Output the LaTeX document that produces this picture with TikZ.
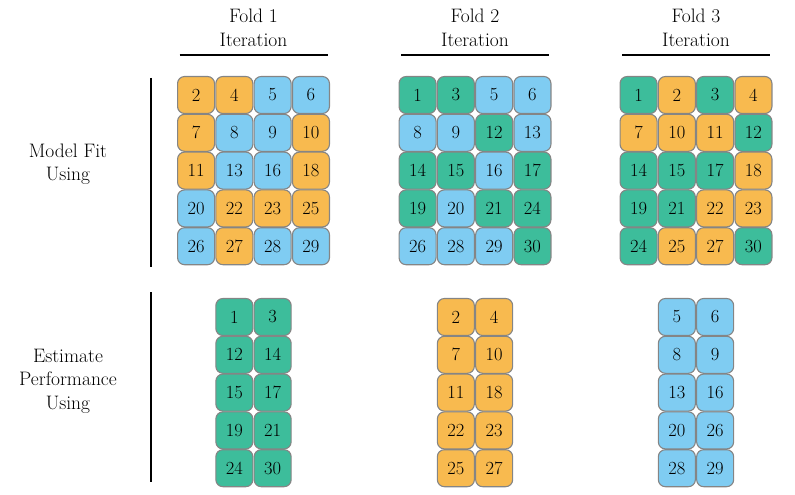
\documentclass[tikz,border=0pt]{standalone}
\definecolor{cO}{HTML}{F8BA4F}
\definecolor{cB}{HTML}{7FCCF2}
\definecolor{cG}{HTML}{3DBD9B}
\definecolor{cE}{HTML}{858585}
\begin{document}
\begin{tikzpicture}[x=1pt,y=-1pt,
  cell/.style={draw=cE,line width=1.1pt,rounded corners=7pt,minimum width=37pt,minimum height=37pt,inner sep=0pt,font=\fontsize{18.5}{18.5}\selectfont,text=black},
  lbl/.style={align=center,font=\fontsize{19.5}{23.5}\selectfont},
  rule/.style={line width=1.4pt}]
\useasboundingbox (0,0) rectangle (795,495);
% headers
\foreach \f/\cx in {1/253.5,2/475,3/696}{
  \node[lbl] (h\f) at (\cx,28) {Fold \f\\Iteration};
  \coordinate (ul\f) at (\cx-74,55);
  \coordinate (ur\f) at (\cx+74,55);
  \draw[rule] (ul\f) -- (ur\f);
}
% left labels and lines
\node[lbl] (lfit) at (68,164) {Model Fit\\Using};
\node[lbl] (lest) at (68,381) {Estimate\\Performance\\Using};
\coordinate (v1a) at (151,78); \coordinate (v1b) at (151,267);
\coordinate (v2a) at (151,292); \coordinate (v2b) at (151,482);
\draw[rule] (v1a) -- (v1b);
\draw[rule] (v2a) -- (v2b);
% top grids
\foreach \f/\cx/\cells in {
 1/253.5/{2/O,4/O,5/B,6/B,7/O,8/B,9/B,10/O,11/O,13/B,16/B,18/O,20/B,22/O,23/O,25/O,26/B,27/O,28/B,29/B},
 2/475/{1/G,3/G,5/B,6/B,8/B,9/B,12/G,13/B,14/G,15/G,16/B,17/G,19/G,20/B,21/G,24/G,26/B,28/B,29/B,30/G},
 3/696/{1/G,2/O,3/G,4/O,7/O,10/O,11/O,12/G,14/G,15/G,17/G,18/O,19/G,21/G,22/O,23/O,24/G,25/O,27/O,30/G}}{
  \foreach \n/\c [count=\i from 0] in \cells {
    \pgfmathtruncatemacro{\col}{mod(\i,4)}
    \pgfmathtruncatemacro{\row}{div(\i,4)}
    \node[cell,fill=c\c] (t\f-\n) at ({\cx+(\col-1.5)*38.3},{95+\row*37.8}) {\n};
  }
}
% bottom grids
\foreach \f/\cx/\c/\cells in {
 1/253.5/G/{1,3,12,14,15,17,19,21,24,30},
 2/475/O/{2,4,7,10,11,18,22,23,25,27},
 3/696/B/{5,6,8,9,13,16,20,26,28,29}}{
  \foreach \n [count=\i from 0] in \cells {
    \pgfmathtruncatemacro{\col}{mod(\i,2)}
    \pgfmathtruncatemacro{\row}{div(\i,2)}
    \node[cell,fill=c\c] (b\f-\n) at ({\cx+(\col-0.5)*38.3},{317+\row*37.8}) {\n};
  }
}
\end{tikzpicture}
\end{document}
